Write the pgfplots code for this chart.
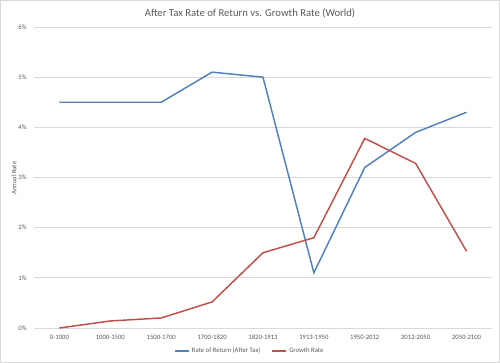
\documentclass[border=0pt]{standalone}
\usepackage{pgfplots}
\pgfplotsset{compat=1.18}
\usepackage{fontspec}
\setmainfont{Carlito}
\definecolor{serblue}{HTML}{4F81BD}
\definecolor{serred}{HTML}{C0504D}
\definecolor{txtgray}{HTML}{595959}
\definecolor{gridgray}{HTML}{D9D9D9}
\begin{document}
\begin{tikzpicture}
\draw[gridgray, line width=0.6pt] (0.3pt,0.3pt) rectangle (374.7pt,271.95pt);
\node[txtgray, font=\fontsize{8}{9.6}\selectfont] at (187.5pt,262.5pt) {After Tax Rate of Return vs. Growth Rate (World)};
\node[txtgray, rotate=90, font=\fontsize{5}{6}\selectfont] at (10.5pt,138.75pt) {Annual Rate};
\begin{axis}[
  at={(25.5pt,26.25pt)}, anchor=south west,
  scale only axis, width=343.5pt, height=225.75pt,
  xmin=-0.5, xmax=8.5, ymin=0, ymax=6,
  xtick={0,...,8},
  xticklabels={0-1000,1000-1500,1500-1700,1700-1820,1820-1913,1913-1950,1950-2012,2012-2050,2050-2100},
  ytick={0,1,2,3,4,5,6},
  yticklabels={0\%,1\%,2\%,3\%,4\%,5\%,6\%},
  /pgf/number format/assume math mode=true,
  ticklabel style={font=\fontsize{5}{6}\selectfont, text=txtgray},
  major tick length=0pt,
  axis line style={draw=none},
  ymajorgrids, grid style={gridgray, line width=0.5pt},
  xticklabel style={yshift=-2pt},
  yticklabel style={xshift=-2pt},
  clip=false,
  legend columns=2,
  legend style={at={(0.4716,-0.0764)}, anchor=center, draw=none, fill=none,
    font=\fontsize{5}{6}\selectfont, text=txtgray,
    /tikz/every even column/.append style={column sep=6pt}},
  legend image code/.code={\draw[#1] (0pt,0pt) -- (10.5pt,0pt);},
]
\addplot[serblue, line width=1.1pt] coordinates {
(0,4.5) (1,4.5) (2,4.5) (3,5.1) (4,5.0) (5,1.1) (6,3.2) (7,3.9) (8,4.3)};
\addlegendentry{Rate of Return (After Tax)}
\addplot[serred, line width=1.1pt] coordinates {
(0,0.0) (1,0.14) (2,0.2) (3,0.52) (4,1.5) (5,1.8) (6,3.78) (7,3.28) (8,1.53)};
\addlegendentry{Growth Rate}
\end{axis}
\end{tikzpicture}
\end{document}
